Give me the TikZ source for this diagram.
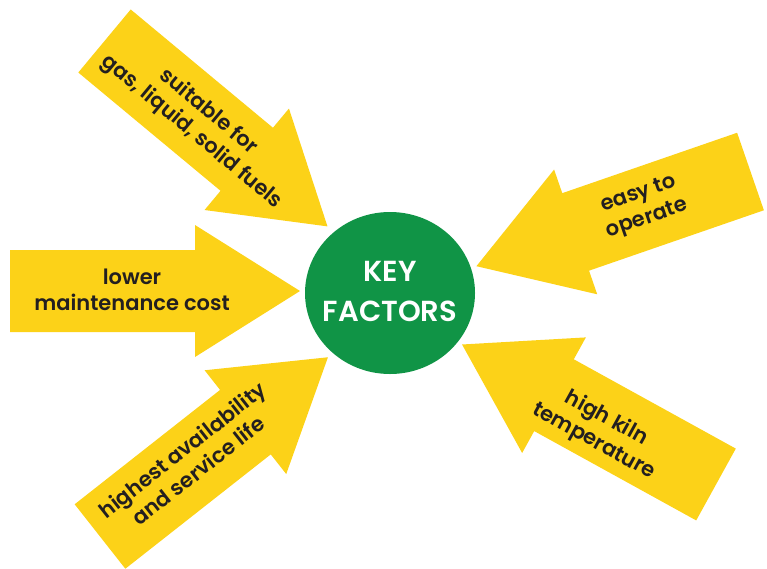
\documentclass[tikz,border=0pt]{standalone}
\usepackage{fontspec}
\setmainfont{Poppins}[BoldFont={Poppins SemiBold}]
\usetikzlibrary{shapes.geometric}
\definecolor{arrowyellow}{RGB}{252,210,24}
\definecolor{keygreen}{RGB}{16,148,70}
\definecolor{labelink}{RGB}{35,31,32}
\tikzset{
  arrowlabel/.style={text=labelink, align=center, font=\bfseries\fontsize{21}{26}\selectfont, inner sep=0pt},
  keylabel/.style={text=white, align=center, font=\bfseries\fontsize{29}{40}\selectfont, inner sep=0pt}
}
% block arrow pointing along +x, back edge at the origin
\newcommand{\blockarrow}[2]{%
  \begin{scope}[shift={#1}, rotate=#2]
    \fill[arrowyellow] (0,-41) -- (185,-41) -- (185,-66) -- (290,0) -- (185,66) -- (185,41) -- (0,41) -- cycle;
  \end{scope}}
\begin{document}
\begin{tikzpicture}[x=1pt, y=-1pt]
  \useasboundingbox (0,0) rectangle (767,568);

  \blockarrow{(104.5,41)}{-39.74}
  \blockarrow{(10,291)}{0}
  \blockarrow{(750.5,171.5)}{199.06}
  \blockarrow{(716,484.5)}{151.13}
  \blockarrow{(100,536.5)}{38.18}

  \node[ellipse, fill=keygreen, minimum width=170pt, minimum height=162pt, inner sep=0pt] (key) at (390,293) {};
  \node[keylabel] (keytext) at (390,291) {KEY\\FACTORS};

  \node[arrowlabel, rotate=-39.74] (fuels) at (200,122) {suitable for\\gas, liquid, solid fuels};
  \node[arrowlabel] (cost) at (132,290) {lower\\maintenance cost};
  \node[arrowlabel, rotate=19.06] (operate) at (643,207) {easy to\\operate};
  \node[arrowlabel, rotate=-28.87] (kiln) at (600,430) {high kiln\\temperature};
  \node[arrowlabel, rotate=38.18] (life) at (190,460) {highest availability\\and service life};
\end{tikzpicture}
\end{document}
